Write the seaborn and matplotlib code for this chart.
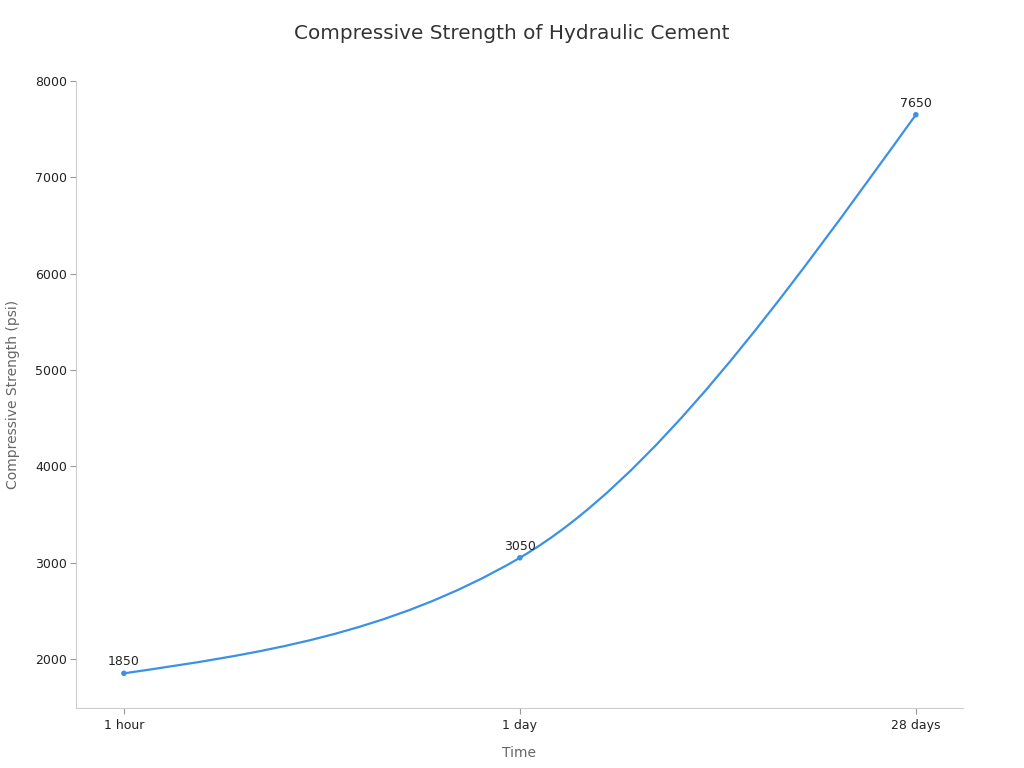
import numpy as np
import pandas as pd
import matplotlib
matplotlib.use('Agg')
import matplotlib.pyplot as plt
from matplotlib.path import Path
from matplotlib.patches import PathPatch
import seaborn as sns

# data
time_labels = ['1 hour', '1 day', '28 days']
strength_psi = [1850, 3050, 7650]

line_color = '#3a91e5'

sns.set_theme(style='white')
plt.rcParams['font.family'] = ['DejaVu Sans']

df = pd.DataFrame({'Time': time_labels, 'Strength': strength_psi})

fig = plt.figure(figsize=(10.24, 7.68), dpi=100)
ax = fig.add_axes([0.0742, 0.0781, 0.8662, 0.8164])

# smooth monotone curve (d3 curveMonotoneX style) through the points
xs = np.arange(len(strength_psi), dtype=float)
ys = np.array(strength_psi, dtype=float)
h = np.diff(xs)
sec = np.diff(ys) / h
tan = np.zeros_like(ys)
for i in range(1, len(ys) - 1):
    p = (sec[i - 1] * h[i] + sec[i] * h[i - 1]) / (h[i - 1] + h[i])
    tan[i] = (np.sign(sec[i - 1]) + np.sign(sec[i])) * min(abs(sec[i - 1]), abs(sec[i]), 0.5 * abs(p))
tan[0] = (3 * sec[0] - tan[1]) / 2
tan[-1] = (3 * sec[-1] - tan[-2]) / 2

verts = [(xs[0], ys[0])]
codes = [Path.MOVETO]
for i in range(len(xs) - 1):
    d = h[i] / 3
    verts += [(xs[i] + d, ys[i] + tan[i] * d),
              (xs[i + 1] - d, ys[i + 1] - tan[i + 1] * d),
              (xs[i + 1], ys[i + 1])]
    codes += [Path.CURVE4] * 3
ax.add_patch(PathPatch(Path(verts, codes), facecolor='none',
                       edgecolor=line_color, linewidth=1.6, zorder=2))

sns.scatterplot(data=df, x='Time', y='Strength', ax=ax, color=line_color,
                s=16, edgecolor='none', zorder=3)

for i, v in enumerate(strength_psi):
    ax.annotate(str(v), (i, v), xytext=(0, 3.5), textcoords='offset points',
                ha='center', va='bottom', fontsize=9, color='#222222')

ax.set_xlim(-0.121, 2.119)
ax.set_ylim(1490, 8000)
ax.set_yticks([2000, 3000, 4000, 5000, 6000, 7000, 8000])

sns.despine(ax=ax)
for s in ['left', 'bottom']:
    ax.spines[s].set_color('#cccccc')
    ax.spines[s].set_linewidth(0.8)
ax.tick_params(axis='both', bottom=True, left=True, length=4, width=0.8,
               color='#999999', labelsize=9, labelcolor='#222222', pad=2.5,
               direction='out')
ax.tick_params(axis='x', pad=4)
ax.grid(False)

ax.set_xlabel('Time', fontsize=10, color='#666666', labelpad=10)
ax.set_ylabel('Compressive Strength (psi)', fontsize=10, color='#666666', labelpad=11)
fig.suptitle('Compressive Strength of Hydraulic Cement', fontsize=14.4,
             color='#333333', y=0.957, va='center')

fig.savefig('out.png', dpi=100, facecolor='white')
